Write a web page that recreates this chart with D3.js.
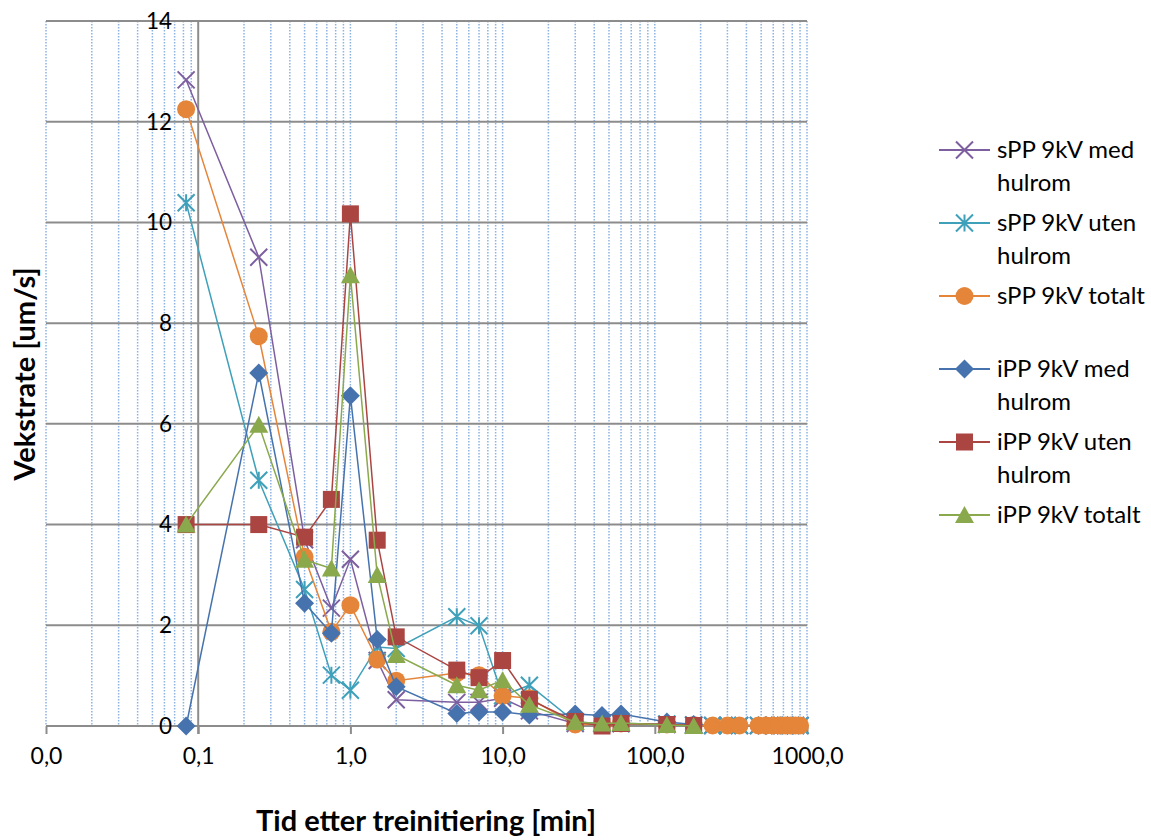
<!DOCTYPE html>
<html><head><meta charset="utf-8">
<script src="https://cdn.jsdelivr.net/npm/d3@7"></script>
<style>
html,body{margin:0;padding:0;background:#fff;}
text{font-family:Lato, "Open Sans", sans-serif;fill:#000;}
</style></head>
<body>
<svg id="chart" width="1151" height="840"></svg>
<script>
// ---- data ----
const timesS = [0.0833, 0.25, 0.5, 0.75, 1, 1.5, 2, 5, 7, 10, 15, 30, 45, 60, 120, 180, 240, 300, 360, 480, 540, 600, 660, 720, 780, 840, 900];
const timesI = [0.0833, 0.25, 0.5, 0.75, 1, 1.5, 2, 5, 7, 10, 15, 30, 45, 60, 120, 180];
const sppMed   = [12.83, 9.31, 3.7, 2.34, 3.31, 1.3, 0.52, 0.47, 0.47, 0.55, 0.3, 0.05, 0.05, 0.05, 0.03, 0.02, 0.01, 0.01, 0.01, 0.01, 0.01, 0.01, 0.01, 0.01, 0.01, 0.01, 0.01];
const sppUten  = [10.39, 4.88, 2.71, 1.01, 0.71, 1.57, 1.54, 2.17, 1.99, 0.6, 0.81, 0.08, 0.05, 0.05, 0.04, 0.02, 0.01, 0.01, 0.01, 0.01, 0.01, 0.01, 0.01, 0.01, 0.01, 0.01, 0.01];
const sppTot   = [12.25, 7.74, 3.36, 1.87, 2.40, 1.32, 0.90, 1.05, 1.01, 0.60, 0.55, 0.03, 0.03, 0.05, 0.03, 0.02, 0.01, 0.01, 0.01, 0.01, 0.01, 0.01, 0.01, 0.01, 0.01, 0.01, 0.01];
const ippMed   = [0, 7.01, 2.44, 1.84, 6.56, 1.72, 0.78, 0.25, 0.28, 0.28, 0.22, 0.24, 0.21, 0.24, 0.08, 0.03];
const ippUten  = [4.0, 4.0, 3.75, 4.50, 10.17, 3.69, 1.77, 1.11, 0.96, 1.30, 0.53, 0.09, 0.0, 0.05, 0.03, 0.01];
const ippTot   = [4.0, 5.98, 3.30, 3.13, 8.95, 3.00, 1.41, 0.81, 0.71, 0.91, 0.42, 0.08, 0.05, 0.06, 0.02, 0.0];
const seriesNames = ["sPP 9kV med hulrom", "sPP 9kV uten hulrom", "sPP 9kV totalt", "", "iPP 9kV med hulrom", "iPP 9kV uten hulrom", "iPP 9kV totalt"];
const xTickValues = [0.01, 0.1, 1, 10, 100, 1000];
const xTickLabels = ["0,0", "0,1", "1,0", "10,0", "100,0", "1000,0"];
const yTickValues = [0, 2, 4, 6, 8, 10, 12, 14];
const xTitle = "Tid etter treinitiering [min]";
const yTitle = "Vekstrate [um/s]";

const series = [
  {name: seriesNames[0], x: timesS, y: sppMed,  color: "#7D5FA0", marker: "x"},
  {name: seriesNames[1], x: timesS, y: sppUten, color: "#3FA0BA", marker: "star"},
  {name: seriesNames[2], x: timesS, y: sppTot,  color: "#E4853A", marker: "circle"},
  {name: seriesNames[4], x: timesI, y: ippMed,  color: "#4673AD", marker: "diamond"},
  {name: seriesNames[5], x: timesI, y: ippUten, color: "#AA4542", marker: "square"},
  {name: seriesNames[6], x: timesI, y: ippTot,  color: "#8AA94D", marker: "triangle"}
];

const svg = d3.select("#chart");
const x = d3.scaleLog().domain([0.01, 1000]).range([46, 807]);
const y = d3.scaleLinear().domain([0, 14]).range([726, 21]);

// minor dotted vertical gridlines
const minor = [];
for (let e = -2; e < 3; e++) for (let k = 1; k <= 9; k++) minor.push(k * Math.pow(10, e));
minor.push(1000);
svg.append("g").selectAll("line").data(minor.filter(v => Math.abs(v - 0.1) > 1e-9)).join("line")
  .attr("x1", d => x(d)).attr("x2", d => x(d)).attr("y1", y(14)).attr("y2", y(0))
  .attr("stroke", "#8DB3E2").attr("stroke-width", 1.5).attr("stroke-dasharray", "1.5,1.5");

// horizontal major gridlines
svg.append("g").selectAll("line").data(yTickValues).join("line")
  .attr("x1", x(0.01)).attr("x2", x(1000)).attr("y1", d => y(d)).attr("y2", d => y(d))
  .attr("stroke", "#8C8C8C").attr("stroke-width", 2);

// vertical axis line at 0.1
svg.append("line").attr("x1", x(0.1)).attr("x2", x(0.1)).attr("y1", y(14)).attr("y2", y(0) + 8)
  .attr("stroke", "#8C8C8C").attr("stroke-width", 2);

// x axis ticks
const xAxis = d3.axisBottom(x).tickValues(xTickValues).tickSize(8).tickPadding(14)
  .tickFormat((d, i) => xTickLabels[i]);
const gx = svg.append("g").attr("transform", `translate(0,${y(0)})`).call(xAxis);
gx.select(".domain").remove();
gx.selectAll(".tick line").attr("stroke", "#8C8C8C").attr("stroke-width", 2);
gx.selectAll(".tick text").attr("font-size", 23).attr("font-family", "Lato").attr("fill", "#000");

// y tick labels
svg.append("g").selectAll("text").data(yTickValues).join("text")
  .attr("x", 172).attr("y", d => y(d)).attr("dy", "0.35em").attr("text-anchor", "end")
  .attr("font-size", 22.5).text(d => d);

// titles
svg.append("text").attr("x", 426).attr("y", 821).attr("dy", "0.35em").attr("text-anchor", "middle")
  .attr("font-size", 29).attr("font-weight", "bold").text(xTitle);
svg.append("text").attr("transform", `translate(25,374) rotate(-90)`).attr("dy", "0.35em")
  .attr("text-anchor", "middle").attr("font-size", 29).attr("font-weight", "bold").text(yTitle);

// markers
function drawMarker(g, type, color) {
  const s = 8.5;
  if (type === "x") {
    g.append("path").attr("d", `M${-s},${-s}L${s},${s}M${-s},${s}L${s},${-s}`)
      .attr("stroke", color).attr("stroke-width", 2).attr("fill", "none");
  } else if (type === "star") {
    g.append("path").attr("d", `M${-s},${-s}L${s},${s}M${-s},${s}L${s},${-s}M0,${-s}L0,${s}`)
      .attr("stroke", color).attr("stroke-width", 2).attr("fill", "none");
  } else if (type === "circle") {
    g.append("circle").attr("r", 9).attr("fill", color);
  } else if (type === "diamond") {
    g.append("path").attr("d", `M0,-9.5L9.5,0L0,9.5L-9.5,0Z`).attr("fill", color);
  } else if (type === "square") {
    g.append("rect").attr("x", -8.5).attr("y", -8.5).attr("width", 17).attr("height", 17).attr("fill", color);
  } else if (type === "triangle") {
    g.append("path").attr("d", `M0,-9L9.5,8L-9.5,8Z`).attr("fill", color);
  }
}

const line = d3.line().x(d => x(d[0])).y(d => y(d[1]));
series.forEach(s => {
  const pts = s.x.map((t, i) => [t, s.y[i]]);
  const g = svg.append("g");
  g.append("path").attr("d", line(pts)).attr("fill", "none").attr("stroke", s.color).attr("stroke-width", 1.5);
  pts.forEach(p => {
    const m = g.append("g").attr("transform", `translate(${x(p[0])},${y(p[1])})`);
    drawMarker(m, s.marker, s.color);
  });
});

// legend
const leg = svg.append("g");
let ly = 150;
const legendItems = [
  series[0], series[1], series[2], {name: "", marker: null}, series[3], series[4], series[5]
];
const legFont = 24;
legendItems.forEach(s => {
  if (!s.name) { ly += 36.5; return; }
  const words = s.name.split(" ");
  const lines = [];
  let cur = "";
  const tmp = leg.append("text").attr("font-size", legFont);
  words.forEach(w => {
    const test = cur ? cur + " " + w : w;
    tmp.text(test);
    if (tmp.node().getComputedTextLength() > 153 && cur) { lines.push(cur); cur = w; }
    else cur = test;
  });
  lines.push(cur);
  tmp.remove();
  leg.append("line").attr("x1", 939).attr("x2", 990).attr("y1", ly).attr("y2", ly)
    .attr("stroke", s.color).attr("stroke-width", 2);
  const m = leg.append("g").attr("transform", `translate(964.5,${ly})`);
  drawMarker(m, s.marker, s.color);
  lines.forEach((t, i) => {
    leg.append("text").attr("x", 997).attr("y", ly + i * 33).attr("dy", "0.35em")
      .attr("font-size", legFont).text(t);
  });
  ly += 36.5 * lines.length;
});
</script>
</body></html>
